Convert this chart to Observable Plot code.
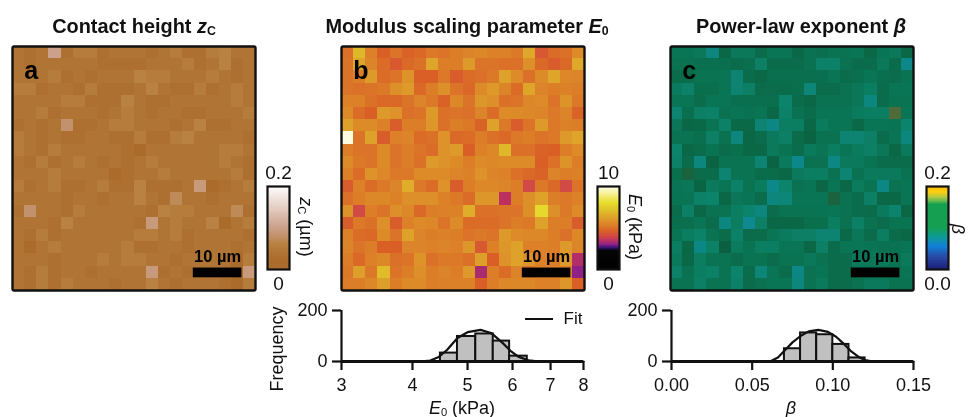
<!DOCTYPE html>
<html><head><meta charset="utf-8">
<script src="https://cdn.jsdelivr.net/npm/d3@7"></script>
<script src="https://cdn.jsdelivr.net/npm/@observablehq/plot@0.6"></script>
<style>
html,body{margin:0;padding:0;background:#fff}
#root{position:relative;width:968px;height:417px;overflow:hidden;font-family:"Liberation Sans",Arial,sans-serif;color:#111;filter:blur(0.45px)}
#root>div,#root>svg{position:absolute}
.t{white-space:nowrap;font-size:19.9px;font-weight:bold;transform:translateX(-50%);text-align:center}
.l{white-space:nowrap;font-size:18px;line-height:18px}
.r{transform:translate(-50%,-50%) rotate(90deg)}
.rl{transform:translate(-50%,-50%) rotate(-90deg)}
.c{transform:translate(-50%,-50%)}
sub{font-size:62%;line-height:0;vertical-align:-0.2em}
</style></head><body><div id="root"></div>
<script>
// Contact height z_c, hundredths of a micrometre
const zcRows=[
[4,3,4,10,3,5,5,3,4,4,4,3,4,5,3,3,5,6,4,4],
[4,3,4,4,4,4,4,3,3,3,3,4,4,4,5,3,4,6,3,4],
[4,4,4,5,3,4,3,4,4,4,6,5,5,4,4,4,5,4,3,4],
[5,5,3,4,4,3,5,3,3,3,4,6,4,3,3,5,3,4,5,4],
[4,4,4,4,5,5,3,3,3,6,4,3,3,4,4,4,4,4,5,4],
[4,4,5,3,4,4,4,3,4,5,4,3,4,4,3,3,4,4,4,5],
[3,4,3,4,8,3,3,4,5,5,4,4,4,3,4,6,3,3,4,4],
[5,4,3,4,3,3,4,4,3,3,5,3,3,5,6,4,4,4,4,3],
[5,4,3,5,4,4,4,4,4,3,2,4,4,4,4,4,4,5,5,4],
[4,3,5,3,4,5,4,3,4,3,4,5,4,4,4,4,4,5,4,3],
[4,4,4,5,4,4,4,4,2,3,4,4,5,4,4,4,4,4,5,3],
[5,3,4,5,3,3,4,5,3,3,6,3,3,3,4,9,2,3,4,5],
[4,4,4,4,3,4,4,3,4,4,6,4,3,7,4,4,3,4,4,4],
[3,8,4,4,3,5,4,4,4,4,4,3,6,5,5,4,4,4,7,3],
[4,4,4,3,6,4,4,4,4,4,3,9,4,5,4,4,6,2,4,5],
[4,3,5,3,4,4,4,4,4,4,5,5,4,5,3,4,4,4,4,3],
[4,2,4,5,4,4,4,4,4,5,3,3,4,4,3,4,4,4,3,4],
[4,4,4,3,4,4,4,5,4,5,5,4,4,3,4,4,4,4,2,5],
[4,3,5,3,4,4,3,4,4,4,4,9,3,4,3,4,4,4,2,9],
[4,3,5,3,5,4,4,4,3,4,4,6,4,3,4,4,4,3,2,5]];
// Modulus scaling parameter E0, kPa
const e0Rows=[
[4.9,6.8,5.3,4.5,5.0,4.6,4.7,5.1,5.0,5.2,5.4,5.5,5.3,5.3,5.1,6.4,4.3,4.8,4.9,5.6],
[5.0,6.3,5.4,4.8,4.3,4.7,4.9,6.3,5.2,5.2,6.0,5.0,5.0,4.9,4.9,5.7,4.7,4.4,4.7,6.4],
[5.0,5.2,6.0,4.8,5.0,5.8,4.5,4.5,5.1,4.4,4.8,4.9,5.1,6.2,5.6,4.9,5.6,6.3,5.5,5.4],
[5.0,4.9,5.0,5.1,5.7,6.0,4.7,5.2,5.7,5.0,4.7,5.6,6.0,5.4,4.8,6.3,5.4,5.2,5.3,5.2],
[5.3,5.3,4.9,4.7,4.7,5.0,5.4,5.1,4.6,5.5,5.0,5.9,5.7,4.9,5.0,5.5,5.6,5.0,5.8,5.1],
[5.6,4.8,4.5,6.0,5.8,4.9,5.0,6.0,4.9,5.0,4.9,5.4,4.8,5.6,5.6,5.5,5.4,5.1,5.4,4.6],
[6.2,5.6,5.6,5.3,4.4,5.2,5.2,5.9,4.9,5.2,5.1,4.6,6.2,5.1,4.4,5.0,6.0,5.1,5.3,5.2],
[9.8,5.0,6.2,4.4,5.3,5.4,4.8,4.9,5.8,4.7,4.8,5.2,4.9,4.7,5.1,5.2,5.0,5.1,6.0,6.3],
[5.2,5.0,5.0,5.6,5.0,5.2,5.0,4.8,5.8,6.0,4.5,5.3,5.5,6.8,4.9,4.9,4.6,4.5,5.2,5.6],
[5.6,5.1,5.0,5.6,5.0,5.2,4.9,6.0,5.8,5.6,5.2,5.6,5.5,5.6,5.6,5.6,4.5,4.9,5.8,5.2],
[5.3,4.8,5.8,5.5,5.1,5.1,5.6,5.6,5.6,5.4,5.3,5.8,5.4,5.3,4.9,4.7,4.6,5.4,5.2,5.3],
[4.4,5.3,4.8,5.1,5.4,6.5,5.1,4.8,5.8,4.4,5.2,5.5,5.5,5.4,5.2,3.9,5.1,4.7,3.9,5.0],
[4.9,5.2,5.5,5.5,5.3,5.7,5.7,5.7,5.3,5.1,4.8,5.9,5.9,3.4,5.2,5.7,6.2,5.2,5.1,5.3],
[5.8,3.9,5.2,5.0,5.7,5.5,4.7,5.2,5.3,5.3,6.5,4.9,4.9,5.0,5.0,5.7,7.8,5.7,5.1,5.6],
[4.4,5.1,4.9,5.7,4.4,5.3,5.6,5.5,5.0,5.6,4.8,4.8,4.8,5.0,5.2,5.1,6.2,5.2,5.2,4.4],
[5.3,4.8,4.7,5.6,5.0,6.2,5.4,5.2,5.3,5.2,5.0,5.1,5.0,6.0,5.6,5.5,5.5,5.2,4.9,5.5],
[5.4,5.0,5.2,4.5,4.5,5.4,5.4,5.3,5.4,5.3,5.9,4.3,5.3,5.9,6.2,5.3,5.3,5.2,6.0,5.4],
[5.2,4.7,5.3,5.5,4.9,5.0,5.8,4.9,5.1,5.1,4.9,6.1,4.5,5.8,6.2,5.8,5.3,5.2,6.0,3.3],
[5.1,6.1,5.1,6.9,5.0,5.2,5.7,5.2,5.4,5.2,6.0,3.2,5.2,4.8,5.4,5.0,5.3,5.4,5.3,2.9],
[5.2,5.2,5.5,6.1,5.2,5.6,5.6,5.2,5.3,5.3,5.3,4.5,5.2,5.5,5.5,5.5,5.3,5.3,5.9,4.5]];
// Power-law exponent beta, thousandths
const betaRows=[
[88,88,85,68,105,85,85,100,88,88,105,92,95,90,90,88,105,88,85,105],
[92,92,95,95,95,100,95,78,100,100,100,92,76,76,92,100,100,85,100,65],
[100,100,90,90,88,72,100,105,95,95,95,95,95,88,100,95,88,95,100,90],
[82,76,96,96,88,72,78,100,100,100,96,70,100,100,92,86,80,100,88,88],
[88,88,100,88,88,95,95,95,96,74,100,105,92,92,92,86,68,100,90,90],
[72,95,78,76,92,88,92,88,105,76,92,100,88,88,88,82,80,80,140,88],
[86,105,102,90,76,102,102,72,66,80,80,105,82,88,88,104,88,88,90,74],
[90,90,96,78,92,68,105,100,84,78,100,112,92,92,72,72,78,100,88,68],
[74,105,100,90,100,96,105,105,84,90,100,84,88,80,88,82,78,86,105,84],
[76,100,68,112,90,90,90,72,112,84,64,92,92,66,84,84,90,100,100,100],
[96,125,100,100,72,90,90,100,100,105,84,80,80,92,72,92,84,84,84,92],
[88,86,110,84,88,76,90,82,64,74,92,88,108,88,105,82,90,66,92,88],
[90,88,76,74,105,86,88,100,68,70,88,88,88,125,92,100,78,105,105,88],
[100,78,105,92,90,80,74,68,100,90,90,90,90,88,92,100,100,84,74,105],
[96,96,88,100,68,80,62,78,105,105,105,96,96,80,92,78,92,100,90,90],
[88,80,75,90,100,76,100,100,88,82,78,78,72,72,104,86,100,80,100,105],
[80,105,66,76,118,82,90,80,80,88,88,105,78,100,88,88,88,92,92,88],
[84,105,80,90,90,100,90,90,100,90,90,85,92,100,100,84,86,84,92,84],
[76,92,80,76,90,74,100,70,88,100,66,92,88,100,100,88,92,92,92,88],
[90,90,78,90,90,76,100,92,88,88,68,90,84,100,100,92,84,84,92,92]];

const zcStops=[0,0.02,0.04,0.06,0.08,0.1,0.2];
const zcColors=["#a86c2c","#aa6b2b","#b07534","#b98243","#c2926c","#cca18c","#ffffff"];
const e0Stops=[0,2.2,2.5,2.9,3.4,3.9,4.5,5.2,6,7,8,9,10];
const e0Colors=["#000000","#050505","#2a1070","#8e2088","#bc3060","#d24a45","#d95f27","#dc7d28","#dd9a2a","#e0bf2a","#e8de2e","#f5f090","#fffff5"];
const betaStops=[0.06,0.075,0.09,0.105,0.12,0.14];
const betaColors=["#0e8a96","#0c8268","#0a7352","#0a6846","#0a5f40","#4f6b3a"];
const betaBarStops=[0,0.03,0.054,0.078,0.1,0.155,0.17,0.185,0.2];
const betaBarColors=["#1c1f78","#2a4ca8","#1080d8","#0f9a90","#14a050","#14a050","#a0c848","#ffd010","#ffb800"];

const e0Edges=[4.48,4.8,5.17,5.55,5.93,6.37];
const e0Counts=[33,98,108,80,21];
const e0FitX=[3.17,4.1,4.3,4.45,4.6,4.8,5.0,5.27,5.5,5.75,5.95,6.15,6.4,6.7,8];
const e0FitY=[0,0,4,18,45,92,115,124,112,75,42,18,5,0,0];
const betaEdges=[0.07,0.08,0.09,0.10,0.11,0.12];
const betaCounts=[50,112,105,67,14];
const betaFitX=[0,0.058,0.062,0.066,0.07,0.075,0.08,0.085,0.091,0.097,0.102,0.107,0.111,0.116,0.12,0.125,0.15];
const betaFitY=[0,0,3,16,42,75,100,118,124,116,97,68,42,18,6,0,0];

const root=document.getElementById("root");
const font='"Liberation Sans",Arial,sans-serif';
const baseStyle={background:"transparent",fontFamily:font,overflow:"visible"};
function place(node,left,top){node.style.left=left+"px";node.style.top=top+"px";root.appendChild(node);}
function html(cls,left,top,content){const d=document.createElement("div");d.className=cls;d.innerHTML=content;d.style.left=left+"px";d.style.top=top+"px";root.appendChild(d);return d;}

function heat(rows,scale,stops,colors,letter,left){
  const table=rows.flatMap((row,r)=>row.map((v,c)=>({c,r,v:v*scale})));
  const p=Plot.plot({width:247,height:248,margin:2,style:baseStyle,
    x:{domain:[0,50],axis:null},y:{domain:[0,50],axis:null},
    color:{type:"linear",domain:stops,range:colors,interpolate:"rgb",clamp:true},
    marks:[
      Plot.rect(table,{x1:d=>d.c*2.5,x2:d=>(d.c+1)*2.5,y1:d=>50-(d.r+1)*2.5,y2:d=>50-d.r*2.5,fill:"v",shapeRendering:"crispEdges"}),
      Plot.rect([0],{x1:()=>37.2,x2:()=>47.2,y1:()=>2.6,y2:()=>4.6,fill:"#000"}),
      Plot.text(["10 µm"],{x:()=>42.2,y:()=>4.6,dy:-11,text:d=>d,fontWeight:"bold",fontSize:16.5,fill:"#000"}),
      Plot.text([letter],{x:()=>2.4,y:()=>45,text:d=>d,textAnchor:"start",fontWeight:"bold",fontSize:25,fill:"#000"}),
      Plot.frame({stroke:"#111",strokeWidth:2.4,rx:1.5})
    ]});
  place(p,left,44);
}
heat(zcRows,0.01,zcStops,zcColors,"a",10);
heat(e0Rows,1,e0Stops,e0Colors,"b",339);
heat(betaRows,0.001,betaStops,betaColors,"c",668);

function bar(max,stops,colors,hi,lo,left){
  const n=120,steps=d3.range(n).map(i=>i/n*max);
  const p=Plot.plot({width:50,height:123,marginLeft:14,marginRight:14,marginTop:20,marginBottom:20,style:baseStyle,
    x:{axis:null,domain:[0,1]},y:{domain:[0,max],axis:null},
    color:{type:"linear",domain:stops,range:colors,interpolate:"rgb"},
    marks:[
      Plot.rect(steps,{x1:()=>0,x2:()=>1,y1:d=>d,y2:d=>d+max/n*1.6,fill:d=>d,shapeRendering:"crispEdges",clip:true}),
      Plot.frame({stroke:"#111",strokeWidth:2.2}),
      Plot.text([hi],{y:()=>max,dy:-14,fontSize:19,text:d=>d,fill:"#111"}),
      Plot.text([lo],{y:()=>0,dy:14,fontSize:19,text:d=>d,fill:"#111"})
    ]});
  place(p,left,166);
}
bar(0.2,zcStops,zcColors,"0.2","0",253);
bar(10,e0Stops,e0Colors,"10","0",583);
bar(0.2,betaBarStops,betaBarColors,"0.2","0.0",912);

function hist(edges,counts,fx,fy,xOpts,ticks,fmt,left){
  const bins=counts.map((c,i)=>({a:edges[i],b:edges[i+1],c}));
  const pts=fx.map((x,i)=>({x,y:fy[i]}));
  const xmin=ticks[0],xmax=ticks[ticks.length-1];
  const p=Plot.plot({width:307,height:96,marginLeft:50,marginRight:15,marginTop:10,marginBottom:35,style:{...baseStyle,fontSize:"18px"},
    x:{...xOpts,domain:[xmin,xmax]},y:{domain:[0,200]},
    marks:[
      Plot.rect(bins,{x1:"a",x2:"b",y1:()=>0,y2:"c",fill:"#c0c0c0",stroke:"#111",strokeWidth:2}),
      Plot.line(pts,{x:"x",y:"y",stroke:"#111",strokeWidth:2.2}),
      Plot.ruleY([0],{stroke:"#111",strokeWidth:2.8}),
      Plot.ruleX([xmin],{y1:0,y2:200,stroke:"#111",strokeWidth:2.2}),
      Plot.axisX({ticks,tickFormat:fmt,tickSize:9,tickPadding:8,strokeWidth:2.2,stroke:"#111",fill:"#111",fontSize:18,label:null}),
      Plot.axisY({ticks:[0,200],tickSize:9,tickPadding:5,strokeWidth:2.2,stroke:"#111",fill:"#111",fontSize:18,label:null})
    ]});
  place(p,left,300);
}
hist(e0Edges,e0Counts,e0FitX,e0FitY,{type:"log"},[3,4,5,6,7,8],d=>String(d),291);
hist(betaEdges,betaCounts,betaFitX,betaFitY,{type:"linear"},[0,0.05,0.1,0.15],d=>d.toFixed(2),621);

html("t",134,15,'Contact height <i>z</i><sub>C</sub>');
html("t",467,15,'Modulus scaling parameter <i>E</i><sub>0</sub>');
html("t",801,15,'Power-law exponent <i>β</i>');
html("l r",306,227,'<i>z</i><sub>C</sub> (µm)');
html("l r",635,227,'<i>E</i><sub>0</sub> (kPa)');
html("l r",958,229,'<i>β</i>');
html("l rl",277,349,'Frequency');
html("l c",462,408,'<i>E</i><sub>0</sub> (kPa)');
html("l c",791,408,'<i>β</i>');
html("l c",573,319,'Fit').style.fontSize="17px";
const sw=html("",525,318,"");sw.style.width="28px";sw.style.height="2.4px";sw.style.background="#111";
</script></body></html>
